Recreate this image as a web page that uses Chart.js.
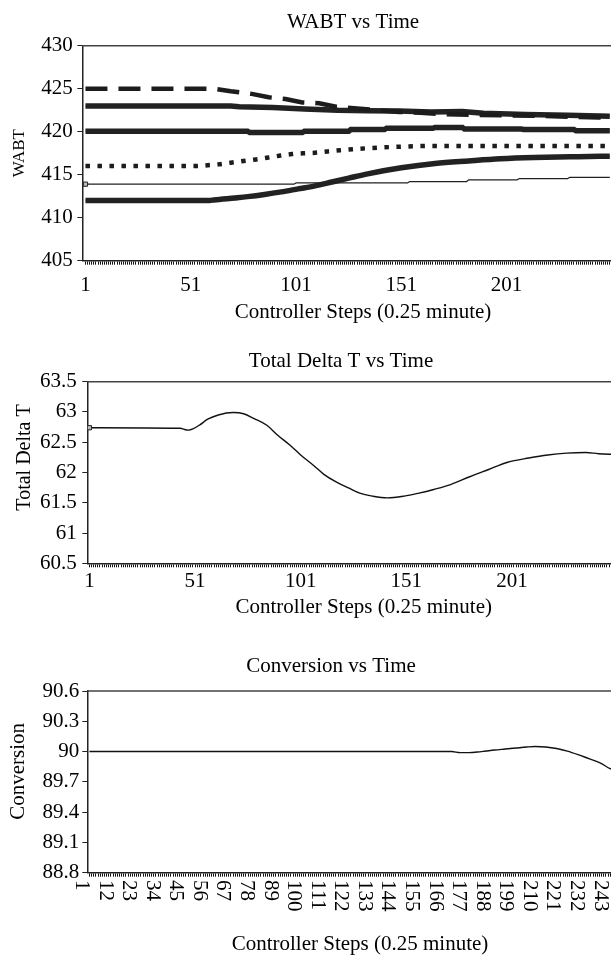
<!DOCTYPE html>
<html><head><meta charset="utf-8">
<script src="https://cdn.jsdelivr.net/npm/chart.js@4.4.1/dist/chart.umd.min.js"></script>
<style>
html,body{margin:0;padding:0;background:#fff;overflow:hidden;width:611px;height:955px;}
.box{position:absolute;left:0;}
</style></head><body>
<div class="box" style="top:0;width:706px;height:330px"><canvas id="c1"></canvas></div>
<div class="box" style="top:339px;width:682px;height:285px"><canvas id="c2"></canvas></div>
<div class="box" style="top:644px;width:662px;height:317px"><canvas id="c3"></canvas></div>
<script>
// ---------- data ----------
const stepCount = 250;
const stepNumbers = Array.from({length: stepCount}, (_, i) => i + 1);
const wabtTicks = [405, 410, 415, 420, 425, 430];
const deltaTicks = [60.5, 61, 61.5, 62, 62.5, 63, 63.5];
const convTicks = [88.8, 89.1, 89.4, 89.7, 90, 90.3, 90.6];

// WABT series (controller step, value)
const wabtDashSteps = [1, 62, 70, 80, 88, 96, 104, 112, 120, 130, 140, 150, 160, 170, 185, 200, 215, 230, 245, 250];
const wabtDashValues = [425.0, 425.0, 424.7, 424.4, 424.0, 423.8, 423.4, 423.3, 422.9, 422.7, 422.5, 422.3, 422.2, 422.05, 421.95, 421.9, 421.85, 421.75, 421.65, 421.6];

const wabtUpperSteps = [1, 70, 74, 90, 105, 121, 135, 150, 165, 180, 190, 210, 230, 250];
const wabtUpperValues = [423.0, 423.0, 422.9, 422.8, 422.65, 422.5, 422.45, 422.4, 422.3, 422.35, 422.15, 422.0, 421.9, 421.8];

const wabtMidSteps = [1, 78, 79, 104, 105, 126, 127, 143, 144, 166, 167, 180, 181, 208, 209, 233, 234, 250];
const wabtMidValues = [420.05, 420.05, 419.9, 419.9, 420.05, 420.05, 420.25, 420.25, 420.4, 420.4, 420.5, 420.5, 420.3, 420.3, 420.25, 420.25, 420.1, 420.1];

const wabtDotSteps = [1, 53, 59, 64, 70, 76, 81, 88, 93, 99, 105, 110, 116, 122, 130, 140, 150, 165, 250];
const wabtDotValues = [416.0, 416.0, 416.1, 416.2, 416.4, 416.6, 416.75, 417.0, 417.2, 417.4, 417.5, 417.55, 417.7, 417.85, 418.0, 418.15, 418.25, 418.35, 418.35];

const wabtThinSteps = [1, 100, 101, 154, 155, 182, 183, 206, 207, 230, 231, 250];
const wabtThinValues = [413.9, 413.9, 414.05, 414.05, 414.2, 414.2, 414.4, 414.4, 414.55, 414.55, 414.7, 414.7];

const wabtLowSteps = [1, 60, 62, 72, 78, 86, 94, 102, 110, 118, 126, 135, 151, 167, 183, 198, 214, 235, 250];
const wabtLowValues = [412.0, 412.0, 412.07, 412.3, 412.45, 412.7, 413.0, 413.35, 413.7, 414.15, 414.6, 415.1, 415.8, 416.3, 416.6, 416.85, 417.0, 417.1, 417.15];

// Total Delta T
const deltaSteps = [1, 44, 46, 48, 50, 53, 57, 62, 69, 74, 79, 85, 90, 96, 101, 107, 112, 118, 124, 129, 135, 142, 150, 157, 164, 172, 181, 190, 199, 209, 218, 227, 236, 242, 250];
const deltaValues = [62.74, 62.73, 62.71, 62.70, 62.72, 62.78, 62.88, 62.95, 62.99, 62.97, 62.89, 62.78, 62.62, 62.45, 62.29, 62.12, 61.97, 61.84, 61.74, 61.66, 61.61, 61.58, 61.61, 61.66, 61.72, 61.80, 61.93, 62.05, 62.17, 62.24, 62.29, 62.32, 62.33, 62.31, 62.30];

// Conversion
const convSteps = [1, 170, 174, 178, 182, 186, 190, 195, 200, 205, 209, 214, 219, 224, 229, 234, 239, 244, 248, 250];
const convValues = [90.0, 90.0, 89.99, 89.99, 89.995, 90.005, 90.015, 90.025, 90.035, 90.045, 90.05, 90.045, 90.03, 90.005, 89.97, 89.93, 89.89, 89.83, 89.79, 89.77];

// ---------- helpers ----------
const FONT = 'Liberation Serif';
Chart.defaults.font.family = FONT;
Chart.defaults.color = '#000';
const pts = (s, v) => s.map((x, i) => ({x: x, y: v[i]}));

function xAxis(minV, maxV, every, rot, tickPad, tPad) {
  return {
    type: 'linear', min: minV, max: maxV,
    afterBuildTicks: (s) => { s.ticks = stepNumbers.map(v => ({value: v})); },
    afterFit: (s) => { s.paddingRight = 0; },
    ticks: {autoSkip: false, minRotation: rot, maxRotation: rot, padding: tickPad, color: '#000',
      font: {family: FONT, size: 21},
      callback: (v) => ((v - 1) % every === 0 ? String(v) : '')},
    grid: {display: true, drawOnChartArea: false, drawTicks: true, tickLength: 4, color: '#111', lineWidth: 1},
    border: {display: true, color: '#222', width: 1.5},
    title: {display: true, text: 'Controller Steps (0.25 minute)', color: '#000',
      font: {family: FONT, size: 21}, padding: {top: tPad[0], bottom: tPad[1]}}
  };
}
function yAxis(tickVals, text, titleSize, tPad, tickPad) {
  return {
    type: 'linear', min: tickVals[0], max: tickVals[tickVals.length - 1],
    afterBuildTicks: (s) => { s.ticks = tickVals.map(v => ({value: v})); },
    ticks: {padding: tickPad, color: '#000', font: {family: FONT, size: 21}, callback: (v) => String(v)},
    grid: {drawOnChartArea: false, drawTicks: true, tickLength: 5, color: '#222'},
    border: {display: true, color: '#222', width: 1.5},
    title: {display: true, text: text, color: '#000', font: {family: FONT, size: titleSize},
      padding: {top: tPad[0], bottom: tPad[1]}}
  };
}
// invisible right-hand spacer axis (the original is cropped: its plot area runs past the window)
function spacer(w) {
  return {type: 'linear', position: 'right', display: true,
    ticks: {display: false}, grid: {display: false}, border: {display: false},
    afterFit: (s) => { s.width = w; }};
}
const frame = {
  id: 'frame',
  afterDraw(chart) {
    const {ctx, chartArea: a} = chart;
    ctx.save(); ctx.strokeStyle = '#444'; ctx.lineWidth = 1.5;
    ctx.beginPath(); ctx.moveTo(a.left, a.top); ctx.lineTo(a.right, a.top); ctx.lineTo(a.right, a.bottom); ctx.stroke();
    ctx.restore();
  }
};
const flipLabels = {
  id: 'flipLabels',
  beforeDraw(chart) {
    const s = chart.scales.x;
    const items = s.getLabelItems(chart.chartArea);
    for (const it of items) {
      if (!it._f && it.options.rotation) {
        it.options.rotation = -it.options.rotation;
        it.options.textAlign = 'left';
        it.options.translation = [it.options.translation[0] + 2 * it.textOffset - 8, it.options.translation[1]];
        it._f = true;
      }
    }
  }
};
function titleOpt(text, pb) {
  return {display: true, text: text, color: '#000', font: {family: FONT, size: 21, weight: 'normal'},
    padding: {top: 10, bottom: pb}};
}
const base = (title, pb) => ({
  responsive: true, maintainAspectRatio: false, animation: false,
  layout: {padding: 0},
  plugins: {legend: {display: false}, tooltip: {enabled: false}, title: titleOpt(title, pb)},
  elements: {line: {tension: 0}, point: {radius: 0}}
});
const band = (s, v, mono) => [
  {data: pts(s, v), borderColor: '#222', borderWidth: 5.5, cubicInterpolationMode: mono ? 'monotone' : 'default'},
  {data: pts(s, v), borderColor: '#8c8c8c', borderWidth: 1.6, cubicInterpolationMode: mono ? 'monotone' : 'default'}
];

// ---------- chart 1 ----------
const o1 = base('WABT vs Time', 10.5);
o1.scales = {x: xAxis(-0.5, 266.1, 50, 0, 7.7, [-5.9, 5.4]), y: yAxis(wabtTicks, 'WABT', 17, [9.8, 6.4], 4.6), r: spacer(62.3)};
new Chart(document.getElementById('c1'), {
  type: 'line',
  data: {datasets: [
    {data: pts(wabtDashSteps, wabtDashValues), borderColor: '#1c1c1c', borderWidth: 4.5, borderDash: [22, 11]},
    ...band(wabtUpperSteps, wabtUpperValues, false),
    ...band(wabtMidSteps, wabtMidValues, false),
    {data: pts(wabtDotSteps, wabtDotValues), borderColor: '#1c1c1c', borderWidth: 4.5, borderDash: [4.5, 7.5], cubicInterpolationMode: 'monotone'},
    {data: pts(wabtThinSteps, wabtThinValues), borderColor: '#222', borderWidth: 1.2,
      pointRadius: (c) => (c.dataIndex === 0 ? 3 : 0), pointStyle: 'rect', pointBackgroundColor: '#bbb', pointBorderColor: '#222', pointBorderWidth: 1},
    ...band(wabtLowSteps, wabtLowValues, true)
  ]},
  options: o1,
  plugins: [frame]
});

// ---------- chart 2 ----------
const o2 = base('Total Delta T vs Time', 7.5);
o2.scales = {x: xAxis(0, 261.7, 50, 0, 1.8, [-1.7, 4.4]), y: yAxis(deltaTicks, '      Total Delta T', 20, [13, -2.65], 5.6), r: spacer(41.9)};
new Chart(document.getElementById('c2'), {
  type: 'line',
  data: {datasets: [
    {data: pts(deltaSteps, deltaValues), borderColor: '#111', borderWidth: 1.4, cubicInterpolationMode: 'monotone',
      pointRadius: (c) => (c.dataIndex === 0 ? 3 : 0), pointStyle: 'rect', pointBackgroundColor: '#bbb', pointBorderColor: '#222', pointBorderWidth: 1}
  ]},
  options: o2,
  plugins: [frame]
});

// ---------- chart 3 ----------
const o3 = base('Conversion vs Time', 11.8);
o3.scales = {x: xAxis(0, 254.5, 11, 90, 3.3, [16.6, 4.4]), y: yAxis(convTicks, '    Conversion', 21, [5.4, 8.95], 3), r: spacer(29.3)};
new Chart(document.getElementById('c3'), {
  type: 'line',
  data: {datasets: [
    {data: pts(convSteps, convValues), borderColor: '#111', borderWidth: 1.4, cubicInterpolationMode: 'monotone'}
  ]},
  options: o3,
  plugins: [frame, flipLabels]
});
</script>
</body></html>
